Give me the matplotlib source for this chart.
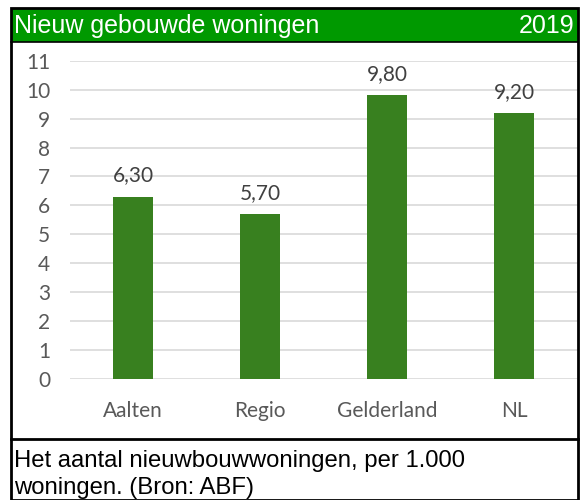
import matplotlib
matplotlib.use("Agg")
import matplotlib.pyplot as plt
from matplotlib.patches import Rectangle
from matplotlib.lines import Line2D

# data
categories = ["Aalten", "Regio", "Gelderland", "NL"]
values = [6.30, 5.70, 9.80, 9.20]
yticks = list(range(0, 12))

title = "Nieuw gebouwde woningen"
year = "2019"
footer = "Het aantal nieuwbouwwoningen, per 1.000\nwoningen. (Bron: ABF)"

W, H = 580, 500
fig = plt.figure(figsize=(W / 100, H / 100), dpi=100)


def fx(px):
    return px / W


def fy(py):
    return 1 - py / H


# title bar
fig.patches.append(Rectangle((fx(11), fy(42)), fx(567), 33 / H, transform=fig.transFigure,
                             facecolor="#009900", edgecolor="none", zorder=0))
fig.text(fx(14), fy(26), title, color="white", fontsize=18, family="Liberation Sans",
         va="center", ha="left")
fig.text(fx(574), fy(26), year, color="white", fontsize=18, family="Liberation Sans",
         va="center", ha="right")

# outer frame and separators
fig.patches.append(Rectangle((fx(11), 0), fx(567), fy(8), transform=fig.transFigure,
                             facecolor="none", edgecolor="black", linewidth=2, zorder=5))
fig.lines.append(Line2D([fx(11), fx(578)], [fy(42), fy(42)], transform=fig.transFigure,
                        color="black", linewidth=1.2))
fig.lines.append(Line2D([fx(11), fx(578)], [fy(439), fy(439)], transform=fig.transFigure,
                        color="black", linewidth=2))

fig.text(fx(14), fy(474.5), footer, color="black", fontsize=17.2, family="Liberation Sans",
         va="center", ha="left", linespacing=1.25)

# chart
ax = fig.add_axes([fx(69.5), fy(379), fx(508), (379 - 60.7) / H])
x = range(len(categories))
bars = ax.bar(x, values, width=0.32, color="#38801F", zorder=3)
for b, v in zip(bars, values):
    ax.annotate(f"{v:.2f}".replace(".", ","), (b.get_x() + b.get_width() / 2, v),
                xytext=(0, 8), textcoords="offset points", ha="center", va="bottom",
                fontsize=15, color="#404040", family="Lato")

ax.set_xlim(-0.5, len(categories) - 0.5)
ax.set_ylim(0, 11)
ax.set_yticks(yticks)
ax.set_xticks(list(x))
ax.set_xticklabels(categories)
ax.yaxis.grid(True, color="#D9D9D9", linewidth=1.2, zorder=0)
ax.set_axisbelow(True)
for s in ax.spines.values():
    s.set_visible(False)
ax.tick_params(axis="both", length=0, labelsize=15, labelcolor="#595959")
ax.tick_params(axis="y", pad=14)
ax.tick_params(axis="x", pad=16)
for lbl in ax.get_xticklabels() + ax.get_yticklabels():
    lbl.set_family("Lato")
for lbl in ax.get_yticklabels():
    lbl.set_horizontalalignment("right")

fig.savefig("out.png", dpi=100)
